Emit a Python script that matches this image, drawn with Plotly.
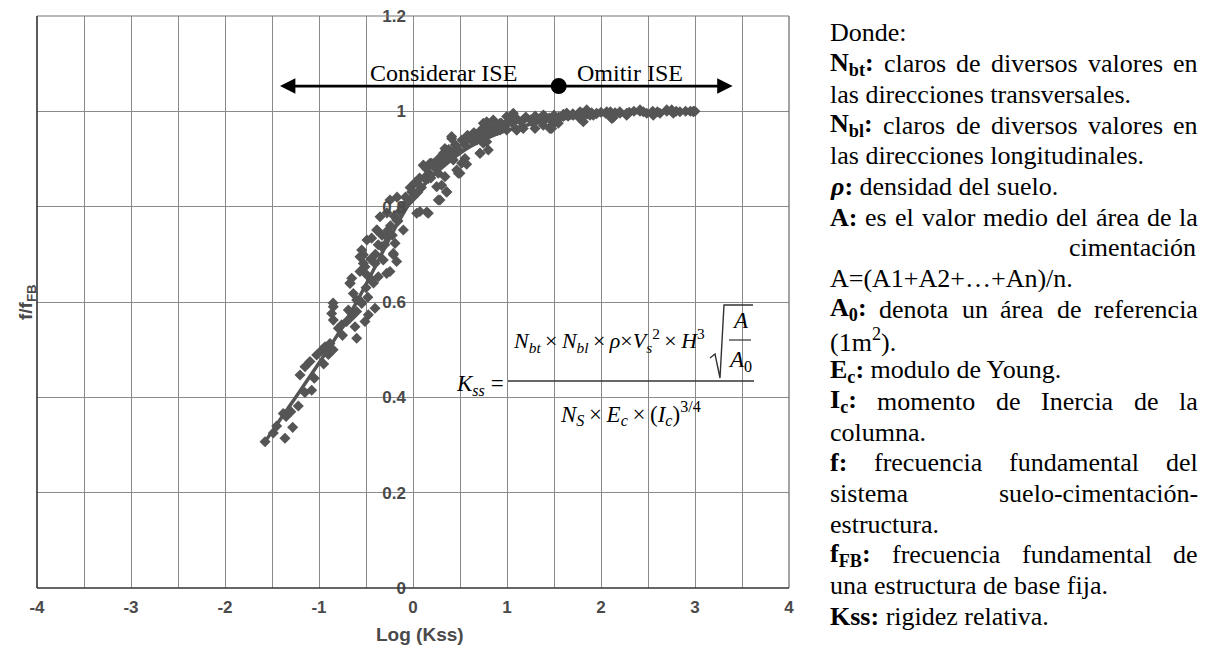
import re
import plotly.graph_objects as go

# ---------------- data ----------------
x_ticks = [-4, -3, -2, -1, 0, 1, 2, 3, 4]
y_ticks = [0, 0.2, 0.4, 0.6, 0.8, 1.0, 1.2]

fit_x = [-1.58, -1.4, -1.2, -1.0, -0.8, -0.6, -0.4, -0.2, 0.0, 0.2, 0.4, 0.6,
         0.8, 1.0, 1.25, 1.5, 1.75, 2.0, 2.5, 3.0]
fit_y = [0.305, 0.357, 0.414, 0.472, 0.532, 0.600, 0.675, 0.752, 0.818, 0.862,
         0.897, 0.925, 0.945, 0.960, 0.973, 0.982, 0.988, 0.993, 0.998, 1.0]

obs_x = [
    -1.574, -1.486, -1.38, -1.362, -1.28, -1.22, -1.078, -1.202, -1.149, -1.096,
    -1.025, -0.971, -0.936, -0.883, -0.794, -0.759, -0.706, -0.848, -0.865, -0.848,
    -0.688, -0.599, -0.617, -0.511, -0.475, -0.404, -0.670, -0.564, -0.511, -0.528,
    -0.404, -0.369, -0.28, -0.174, -0.209, -0.44, -0.599, -0.546, -0.635,
    -0.652, -0.546, -0.528, -0.493, -0.44, -0.386, -0.351, -0.333, -0.316, -0.28,
    -0.245, -0.209, -0.191, -0.174, -0.103, -0.12, -0.014, 0.039, 0.163, 0.039,
    0.11, 0.181, 0.163, 0.252, 0.287, 0.358, 0.269, 0.323, 0.34, 0.411,
    0.429, 0.465, 0.482, 0.5, 0.553, 0.571, 0.642, 0.713, 0.748, 0.784,
    0.854, 0.997,
    0.146, 0.074, 0.003, 0.11, 0.199, 0.269, 0.358, 0.305, 0.34, 0.411,
    0.411, 0.482, 0.518, 0.571, 0.713, 0.784, 0.713, 0.784, 0.854, 0.926,
    1.067, 1.103, 1.173, 1.298, 1.316, 1.386, 1.457, 1.475, 1.529, 1.635,
    1.777, 1.848, 1.918, 2.061, 2.131, 2.273, 2.415, 2.556, 2.699, 2.769, 2.982,
    0.748, 0.801, 0.854, 0.926, 0.997, 1.067, 1.103, 1.173, 1.28, 1.316,
    1.386, 1.475, 1.546, 1.599, 1.635, 1.705, 1.777, 1.812, 1.883, 1.954,
    2.061, 2.114, 2.202, 2.273, 2.415, 2.486, 2.628, 2.752, 2.84, 2.982,
    -0.45, -0.40, -0.37, -0.33, -0.30, -0.27, -0.24, -0.22, -0.20, -0.16,
    -0.14, -0.10, -0.08, -0.05, -0.03, 0.0, 0.02, 0.05, 0.07, 0.09,
    0.12, 0.14, 0.17, 0.19, 0.22, 0.24, 0.27, 0.30, 0.33, 0.36,
    0.38, 0.42, 0.45, 0.48, 0.52, 0.55, 0.58, 0.62, 0.65, 0.68,
    0.72, 0.76, 0.80, 0.83, 0.87, 0.90, 0.94, 0.98, 1.02, 1.06,
    1.10, 1.15, 1.20, 1.25, 1.30, 1.35, 1.40, 1.45, 1.50, 1.55,
    1.60, 1.65, 1.70, 1.75, 1.80, 1.85, 1.90, 1.95, 2.00, 2.05,
    2.10, 2.15, 2.20, 2.30, 2.35, 2.45, 2.55, 2.60, 2.70, 2.80, 2.90, 2.95, 3.0,
    -1.45, -1.35, -1.30, -1.15, -1.05, -0.95, -0.90, -0.85, -0.75, -0.65,
    -0.60, -0.55, -0.50, -0.48, -0.42,
    -0.85, -0.67, -0.564, -0.49, -0.383, -0.277, -0.245, -0.17,
]
obs_y = [
    0.307, 0.325, 0.366, 0.314, 0.337, 0.382, 0.415, 0.447, 0.464, 0.475,
    0.489, 0.499, 0.506, 0.513, 0.545, 0.552, 0.559, 0.562, 0.576, 0.590,
    0.583, 0.524, 0.548, 0.559, 0.573, 0.587, 0.639, 0.664, 0.674, 0.699,
    0.681, 0.653, 0.660, 0.685, 0.699, 0.646, 0.604, 0.597, 0.618,
    0.650, 0.709, 0.681, 0.657, 0.734, 0.751, 0.779, 0.716, 0.688, 0.737,
    0.664, 0.702, 0.723, 0.772, 0.751, 0.800, 0.831, 0.786, 0.786, 0.852,
    0.887, 0.891, 0.859, 0.842, 0.814, 0.831, 0.870, 0.912, 0.922, 0.943,
    0.898, 0.877, 0.919, 0.870, 0.901, 0.940, 0.954, 0.912, 0.933, 0.961,
    0.968, 0.961,
    0.789, 0.790, 0.831, 0.887, 0.891, 0.814, 0.831, 0.845, 0.863, 0.947,
    0.915, 0.870, 0.891, 0.889, 0.912, 0.936, 0.950, 0.978, 0.980, 0.961,
    0.992, 0.961, 0.964, 0.964, 0.985, 0.971, 0.964, 0.971, 0.980, 0.996,
    0.985, 1.003, 0.992, 0.996, 0.987, 0.992, 1.0, 0.992, 1.003, 0.996, 1.0,
    0.975, 0.919, 0.982, 0.975, 0.989, 0.996, 0.961, 0.982, 0.975, 0.985,
    0.992, 0.964, 0.975, 0.989, 0.996, 0.992, 0.999, 0.978, 0.992, 0.996,
    0.999, 0.985, 0.996, 0.996, 1.003, 0.996, 0.996, 1.003, 0.999, 0.999,
    0.69, 0.70, 0.72, 0.74, 0.72, 0.75, 0.76, 0.74, 0.78, 0.77,
    0.79, 0.80, 0.82, 0.81, 0.84, 0.82, 0.85, 0.83, 0.86, 0.84,
    0.86, 0.88, 0.87, 0.86, 0.89, 0.88, 0.90, 0.89, 0.91, 0.90,
    0.92, 0.91, 0.93, 0.92, 0.94, 0.93, 0.95, 0.94, 0.955, 0.94,
    0.96, 0.95, 0.965, 0.955, 0.97, 0.96, 0.975, 0.97, 0.98, 0.975,
    0.985, 0.978, 0.988, 0.982, 0.99, 0.985, 0.99, 0.986, 0.992, 0.988,
    0.994, 0.99, 0.995, 0.992, 0.996, 0.994, 0.997, 0.995, 0.998, 0.996,
    0.999, 0.997, 0.999, 0.998, 1.0, 0.999, 1.0, 0.999, 1.0, 1.0, 1.0, 1.0, 1.0,
    0.34, 0.36, 0.37, 0.41, 0.44, 0.47, 0.49, 0.50, 0.53, 0.57,
    0.58, 0.60, 0.63, 0.61, 0.64,
    0.598, 0.64, 0.695, 0.73, 0.751, 0.787, 0.814, 0.82,
]

ise_boundary_x = 1.55      # dot separating "Considerar ISE" / "Omitir ISE"
ise_left_x = -1.415
ise_right_x = 3.40
ise_y = 1.053

# ---------------- layout helpers (pixel -> paper) ----------------
L, R, T, B = 37, 789, 16, 588
def PX(px):
    return (px - L) / (R - L)
def PY(py):
    return (B - py) / (B - T)

SERIF = "Liberation Serif, Times New Roman, serif"
SANS = "Liberation Sans, Arial, sans-serif"
GRID = "#8a8a8a"
INK = "#555555"
LABEL = "#4a4a4a"

fig = go.Figure()

fig.add_trace(go.Scatter(
    x=fit_x, y=fit_y, mode="lines", line=dict(color=INK, width=3.5, shape="spline"),
    hoverinfo="skip"))
fig.add_trace(go.Scatter(
    x=obs_x, y=obs_y, mode="markers",
    marker=dict(symbol="diamond", size=8.5, color=INK, line=dict(width=0))))
fig.add_trace(go.Scatter(
    x=[ise_boundary_x], y=[ise_y], mode="markers",
    marker=dict(symbol="circle", size=16, color="black"), cliponaxis=False))

tickfont = dict(family=SANS, size=17, color=LABEL, weight="bold")
fig.update_xaxes(
    range=[-4, 4], tickvals=x_ticks, ticktext=[str(v) for v in x_ticks],
    showgrid=True, gridcolor=GRID, gridwidth=1,
    minor=dict(dtick=0.5, tick0=0, showgrid=True, gridcolor=GRID, gridwidth=1),
    zeroline=False, showline=False, ticks="", tickfont=tickfont,
    ticklabelstandoff=7, automargin=False)
fig.update_yaxes(
    range=[0, 1.2], tickvals=y_ticks, ticktext=["0", "0.2", "0.4", "0.6", "0.8", "1", "1.2"],
    anchor="free", position=0.5,
    showgrid=True, gridcolor=GRID, gridwidth=1,
    zeroline=False, showline=False, ticks="", tickfont=tickfont,
    ticklabelstandoff=7, automargin=False)

shapes = []
# white panel behind the formula (covers grid lines)
shapes.append(dict(type="rect", xref="paper", yref="paper", layer="between",
                   x0=PX(455), x1=PX(758), y0=PY(424), y1=PY(294),
                   fillcolor="white", line=dict(width=0)))
# frame
shapes.append(dict(type="line", xref="paper", yref="paper", x0=0, x1=1, y0=1, y1=1,
                   line=dict(color="#777", width=1.2)))
shapes.append(dict(type="line", xref="paper", yref="paper", x0=1, x1=1, y0=0, y1=1,
                   line=dict(color="#666", width=1.2)))
shapes.append(dict(type="line", xref="paper", yref="paper", x0=0, x1=0, y0=0, y1=1,
                   line=dict(color="#333", width=1.6)))
shapes.append(dict(type="line", xref="paper", yref="paper", x0=0, x1=1, y0=0, y1=0,
                   line=dict(color="#333", width=1.6)))
# fraction bars
shapes.append(dict(type="line", xref="paper", yref="paper", x0=PX(508), x1=PX(754),
                   y0=PY(381), y1=PY(381), line=dict(color="#333", width=1.3)))
shapes.append(dict(type="line", xref="paper", yref="paper", x0=PX(729), x1=PX(751),
                   y0=PY(340), y1=PY(340), line=dict(color="#333", width=1.2)))
# radical sign
rad = [(710, 358), (715, 354), (720, 378), (724, 305), (753, 305)]
path = "M " + " L ".join(f"{PX(a):.5f},{PY(b):.5f}" for a, b in rad)
shapes.append(dict(type="path", xref="paper", yref="paper", path=path,
                   line=dict(color="#333", width=1.4)))

ann = []
def text(px, py, s, size, family=SERIF, color="black", xanchor="left", yanchor="middle",
         angle=0, weight="normal"):
    ann.append(dict(xref="paper", yref="paper", x=PX(px), y=PY(py), text=s,
                    showarrow=False, xanchor=xanchor, yanchor=yanchor, borderpad=0,
                    textangle=angle,
                    font=dict(family=family, size=size, color=color, weight=weight)))

# arrows
for tip in (ise_left_x, ise_right_x):
    ann.append(dict(xref="x", yref="y", axref="x", ayref="y", x=tip, y=ise_y,
                    ax=ise_boundary_x, ay=ise_y, text="", showarrow=True,
                    arrowhead=2, arrowsize=1.1, arrowwidth=2.8, arrowcolor="black",
                    standoff=0, startstandoff=0))
text(443, 73, "Considerar ISE", 24, xanchor="center")
text(630, 73, "Omitir ISE", 24, xanchor="center")

# axis titles
text(420, 634, "Log (Kss)", 19, family=SANS, color=LABEL, xanchor="center", weight="bold")
text(27, 302, "f/f<sub>FB</sub>", 19, family=SANS, color=LABEL, xanchor="center",
     angle=-90, weight="bold")

# formula
TS = "\u2009"
fs = 23
text(505, 385, "<i>K</i><sub><i>ss</i></sub> =", fs, xanchor="right")
num = (f"<i>N</i><sub><i>bt</i></sub>{TS}×{TS}<i>N</i><sub><i>bl</i></sub>{TS}×{TS}"
       f"<i>ρ</i>×<i>V</i><sub><i>s</i></sub><sup>2</sup>{TS}×{TS}<i>H</i><sup>3</sup>")
text(512, 340, num, 22)
text(740, 320, "<i>A</i>", fs, xanchor="center")
text(740, 361, "<i>A</i><sub>0</sub>", fs, xanchor="center")
den = f"<i>N</i><sub><i>S</i></sub>{TS}×{TS}<i>E</i><sub><i>c</i></sub>{TS}×{TS}(<i>I</i><sub><i>c</i></sub>)<sup>3/4</sup>"
text(630, 413, den, fs, xanchor="center")

# ---------------- right-hand text panel (justified) ----------------
REG = {' ': 250, 'a': 444, 'b': 500, 'c': 444, 'd': 500, 'e': 444, 'f': 333, 'g': 500,
       'h': 500, 'i': 278, 'j': 278, 'k': 500, 'l': 278, 'm': 778, 'n': 500, 'o': 500,
       'p': 500, 'q': 500, 'r': 333, 's': 389, 't': 278, 'u': 500, 'v': 500, 'w': 722,
       'x': 500, 'y': 500, 'z': 444, 'á': 444, 'ó': 500, 'é': 444, 'í': 278,
       'A': 722, 'B': 667, 'C': 667, 'D': 722, 'E': 611, 'F': 556, 'I': 333, 'K': 722,
       'N': 722, 'S': 556, 'Y': 722, ':': 278, '.': 250, '-': 333, '(': 333, ')': 333,
       '0': 500, '1': 500, '2': 500}
BOLD = {'a': 500, 'b': 556, 'c': 444, 'd': 556, 'e': 444, 'f': 333, 'l': 278, 's': 389,
        't': 333, 'A': 722, 'B': 667, 'E': 667, 'F': 611, 'I': 389, 'K': 778, 'N': 722,
        ':': 333, '0': 500, 'ρ': 500}

def html_width(s, size):
    bold, scale, w = False, 1.0, 0.0
    for tok in re.split(r'(<[^>]+>)', s):
        if tok.startswith('<'):
            t = tok.lower()
            if t == '<b>':
                bold = True
            elif t == '</b>':
                bold = False
            elif t in ('<sub>', '<sup>'):
                scale = 0.7
            elif t in ('</sub>', '</sup>'):
                scale = 1.0
            continue
        for ch in tok:
            tab = BOLD if bold else REG
            w += tab.get(ch, REG.get(ch, 500)) / 1000.0 * size * scale
    return w

panel_lines = [
    ("Donde:", "L"),
    ("<b>N<sub>bt</sub>:</b> claros de diversos valores en", "J"),
    ("las direcciones transversales.", "L"),
    ("<b>N<sub>bl</sub>:</b> claros de diversos valores en", "J"),
    ("las direcciones longitudinales.", "L"),
    ("<b><i>ρ</i>:</b> densidad del suelo.", "L"),
    ("<b>A:</b> es el valor medio del área de la", "J"),
    ("cimentación", "R"),
    ("A=(A1+A2+…+An)/n.", "L"),
    ("<b>A<sub>0</sub>:</b> denota un área de referencia", "J"),
    ("(1m<sup>2</sup>).", "L"),
    ("<b>E<sub>c</sub>:</b> modulo de Young.", "L"),
    ("<b>I<sub>c</sub>:</b> momento de Inercia de la", "J"),
    ("columna.", "L"),
    ("<b>f:</b> frecuencia fundamental del", "J"),
    ("sistema suelo-cimentación-", "J"),
    ("estructura.", "L"),
    ("<b>f<sub>FB</sub>:</b> frecuencia fundamental de", "J"),
    ("una estructura de base fija.", "L"),
    ("<b>Kss:</b> rigidez relativa.", "L"),
]
PL, PR, FS = 829, 1197, 26
for k, (s, mode) in enumerate(panel_lines):
    y = 33 + 30.7 * k
    if mode == "L":
        text(PL, y, s, FS)
    elif mode == "R":
        text(PR, y, s, FS, xanchor="right")
    else:
        words = s.split(" ")
        widths = [html_width(w, FS) for w in words]
        gap = (PR - PL - sum(widths)) / (len(words) - 1)
        xcur = PL
        for w, wd in zip(words, widths):
            text(xcur, y, w, FS)
            xcur += wd + gap

fig.update_layout(
    width=1207, height=650,
    margin=dict(l=L, r=1207 - R, t=T, b=650 - B),
    plot_bgcolor="white", paper_bgcolor="white",
    showlegend=False, shapes=shapes, annotations=ann,
)

fig.write_html(
    "out.html",
    config={"displayModeBar": False},
    post_script="document.body.style.margin='0';document.body.style.overflow='hidden';",
)
